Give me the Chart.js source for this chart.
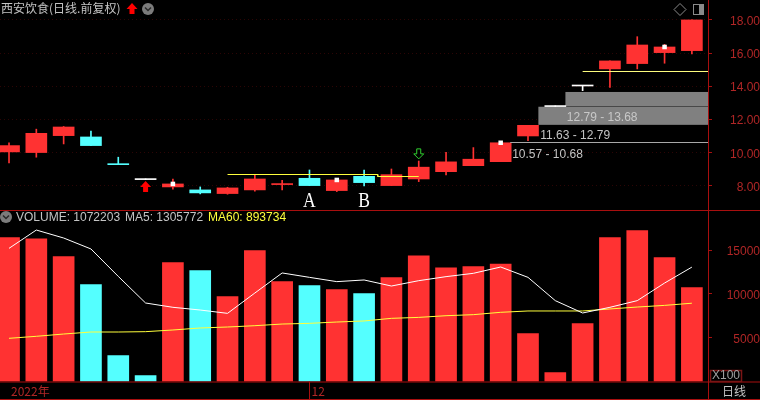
<!DOCTYPE html>
<html>
<head>
<meta charset="utf-8">
<title>西安饮食</title>
<script src="https://cdn.jsdelivr.net/npm/chart.js@4"></script>
<style>
  html, body { margin: 0; padding: 0; background: #000; overflow: hidden; }
  canvas { display: block; }
</style>
</head>
<body>
<canvas id="priceChart" width="760" height="210"></canvas>
<canvas id="volumeChart" width="760" height="190"></canvas>
<script>
// candles
const opens  = [10.05, 10.01, 11.03, 10.95, 9.33, 8.42, 7.94, 7.76, 7.54, 7.76, 8.08, 8.46, 7.72, 8.58, 8.02, 8.42, 8.86, 9.22, 9.46, 11.01, 12.78, 14.02, 15.05, 15.37, 16.03, 16.15];
const closes = [10.43, 11.17, 11.55, 10.43, 9.28, 8.38, 8.12, 7.58, 7.88, 8.42, 8.12, 8.02, 8.36, 8.20, 8.68, 9.13, 9.45, 9.61, 10.60, 11.65, 12.82, 14.06, 15.53, 16.49, 16.37, 18.00];
const highs  = [10.59, 11.42, 11.58, 11.31, 9.73, 8.42, 8.42, 7.94, 7.92, 8.64, 8.34, 8.96, 8.40, 8.96, 9.02, 9.50, 10.03, 10.31, 10.64, 11.65, 12.82, 14.06, 15.53, 16.99, 16.53, 18.00];
const lows   = [9.39, 9.73, 10.53, 10.43, 9.28, 8.38, 7.80, 7.52, 7.50, 7.68, 7.76, 8.02, 7.66, 8.00, 8.02, 8.26, 8.66, 9.22, 9.46, 10.73, 12.78, 13.74, 13.94, 15.05, 15.39, 15.95];
const candleKinds = ['u','u','u','d','d','w','u','d','u','u','u','d','u','d','u','u','u','u','u','u','w','w','u','u','u','u'];
const markerIndex = [6, 12, 18, 24];

// volume, in hundreds
const volumes = [16420, 16300, 14250, 11050, 2950, 670, 13570, 12650, 9680, 14940, 11400, 10940, 10480, 10030, 11850, 14360, 12990, 13110, 13410, 5460, 1010, 6600, 16420, 17220, 14140, 10722];
const ma5  = [15200, 17290, 16380, 15130, 12000, 8960, 8470, 8160, 7780, 10100, 12390, 11890, 11400, 11590, 10900, 11510, 11970, 12350, 13070, 11890, 9230, 7820, 8470, 9230, 11240, 13058];
const ma60 = [4930, 5160, 5420, 5650, 5650, 5690, 5880, 6110, 6220, 6370, 6560, 6640, 6790, 6910, 7210, 7320, 7510, 7630, 7900, 8050, 8050, 8050, 8280, 8500, 8690, 8937];
const volumeKinds = ['u','u','u','d','d','d','u','d','u','u','u','d','u','d','u','u','u','u','u','u','u','u','u','u','u','u'];

// axes
const priceTicks = [8, 10, 12, 14, 16, 18];
const volumeTicks = [5000, 10000, 15000];
const dateTicks = [0, 11];
const dateLabels = ['2022年', '12'];

// gaps on the right of the price panel
const gapLows   = [12.79, 11.68];
const gapHighs  = [13.66, 12.77];
const gapStarts = [20.37, 19.38];
const gapLabels = ['12.79 - 13.68', '11.63 - 12.79', '10.57 - 10.68'];
const gapLabelY = [12.1, 11.04, 9.87];
const gapLabelX = [20.42, 19.45, 18.42];

const xMin = -0.33, xMax = 25.59;

const RED = '#ff3232', CYAN = '#54ffff', WHITE = '#ffffff', YELLOW = '#ffff3c';
const LINE_RED = '#a80f0f', TEXT_RED = '#b02626', GREY_TEXT = '#c4c4c4';
const kindColor = { u: RED, d: CYAN, w: WHITE };
const latin = '"Liberation Sans", Arial, sans-serif';
const cjk = '"Noto Sans CJK SC", sans-serif';

const xy = (arr) => arr.map((v, i) => ({ x: i, y: v }));

function upArrow(ctx, x, y, color) {
    ctx.fillStyle = color;
    ctx.beginPath();
    ctx.moveTo(x, y);
    ctx.lineTo(x + 5.5, y + 6);
    ctx.lineTo(x + 2.5, y + 6);
    ctx.lineTo(x + 2.5, y + 11);
    ctx.lineTo(x - 2.5, y + 11);
    ctx.lineTo(x - 2.5, y + 6);
    ctx.lineTo(x - 5.5, y + 6);
    ctx.closePath();
    ctx.fill();
}

function downArrowOutline(ctx, x, y, color) {
    ctx.strokeStyle = color;
    ctx.lineWidth = 1;
    ctx.beginPath();
    ctx.moveTo(x, y);
    ctx.lineTo(x + 5, y - 5);
    ctx.lineTo(x + 2, y - 5);
    ctx.lineTo(x + 2, y - 10);
    ctx.lineTo(x - 2, y - 10);
    ctx.lineTo(x - 2, y - 5);
    ctx.lineTo(x - 5, y - 5);
    ctx.closePath();
    ctx.stroke();
}

function chevronDot(ctx, x, y) {
    ctx.fillStyle = '#7c7c7c';
    ctx.beginPath();
    ctx.arc(x, y, 6, 0, Math.PI * 2);
    ctx.fill();
    ctx.strokeStyle = '#2a2a2a';
    ctx.lineWidth = 1.5;
    ctx.beginPath();
    ctx.moveTo(x - 3, y - 1.5);
    ctx.lineTo(x, y + 1.5);
    ctx.lineTo(x + 3, y - 1.5);
    ctx.stroke();
}

function hline(ctx, y, x0, x1, color) {
    ctx.strokeStyle = color;
    ctx.lineWidth = 1;
    ctx.beginPath();
    ctx.moveTo(x0, y);
    ctx.lineTo(x1, y);
    ctx.stroke();
}

const priceDecor = {
    id: 'priceDecor',
    beforeDatasetsDraw(chart) {
        const { ctx, scales: { x, y }, chartArea } = chart;
        ctx.save();
        ctx.fillStyle = '#808080';
        gapLows.forEach((low, i) => {
            const top = y.getPixelForValue(gapHighs[i]);
            ctx.fillRect(x.getPixelForValue(gapStarts[i]), top, chartArea.right - x.getPixelForValue(gapStarts[i]), y.getPixelForValue(low) - top);
        });
        ctx.restore();
    },
    afterDraw(chart) {
        const { ctx, scales: { x, y } } = chart;
        ctx.save();
        ctx.textBaseline = 'middle';

        // title line
        ctx.font = '12px ' + cjk;
        ctx.fillStyle = GREY_TEXT;
        ctx.textAlign = 'left';
        ctx.fillText('西安饮食(日线.前复权)', 1, 8);
        upArrow(ctx, 132, 3, '#ff0000');
        chevronDot(ctx, 148, 9);

        // little toolbar icons
        ctx.strokeStyle = '#8a8a8a';
        ctx.lineWidth = 1;
        ctx.beginPath();
        ctx.moveTo(680, 3.5); ctx.lineTo(686, 9.5); ctx.lineTo(680, 15.5); ctx.lineTo(674, 9.5);
        ctx.closePath();
        ctx.stroke();
        ctx.strokeRect(693.5, 4.5, 10, 10);
        ctx.fillStyle = '#8a8a8a';
        ctx.fillRect(699, 5, 4, 9);

        // gap labels
        ctx.font = '12px ' + latin;
        gapLabels.forEach((t, i) => {
            ctx.fillStyle = i === 0 ? '#c8c8c8' : GREY_TEXT;
            ctx.fillText(t, x.getPixelForValue(gapLabelX[i]), y.getPixelForValue(gapLabelY[i]));
        });

        // signals
        upArrow(ctx, x.getPixelForValue(5), y.getPixelForValue(8.3), '#ff0000');
        downArrowOutline(ctx, x.getPixelForValue(15), y.getPixelForValue(9.63), '#30d030');

        // A / B marks, narrow serif
        ctx.fillStyle = WHITE;
        ctx.font = '22px "Liberation Serif", serif';
        ctx.textAlign = 'center';
        ctx.textBaseline = 'alphabetic';
        [['A', 11], ['B', 13]].forEach(([t, i]) => {
            ctx.save();
            ctx.translate(x.getPixelForValue(i), y.getPixelForValue(6.73));
            ctx.scale(0.8, 1);
            ctx.fillText(t, 0, 0);
            ctx.restore();
        });
        ctx.restore();
    }
};

const volumeDecor = {
    id: 'volumeDecor',
    afterDraw(chart) {
        const { ctx, scales: { x }, chartArea, width, height } = chart;
        ctx.save();
        // panel frame
        hline(ctx, 0.5, 0, width, LINE_RED);
        hline(ctx, chartArea.bottom + 0.5, 0, width, LINE_RED);
        hline(ctx, height - 0.5, 0, width, LINE_RED);
        ctx.strokeStyle = LINE_RED;
        ctx.beginPath();
        ctx.moveTo(chartArea.right + 0.5, chartArea.bottom);
        ctx.lineTo(chartArea.right + 0.5, height);
        const dx = Math.round(x.getPixelForValue(dateTicks[1])) + 0.5;
        ctx.moveTo(dx, chartArea.bottom);
        ctx.lineTo(dx, height);
        ctx.stroke();

        // legend line
        chevronDot(ctx, 6, 7);
        ctx.font = '12px ' + latin;
        ctx.textBaseline = 'middle';
        ctx.textAlign = 'left';
        ctx.fillStyle = GREY_TEXT;
        ctx.fillText('VOLUME: 1072203', 16, 8);
        ctx.fillText('MA5: 1305772', 125, 8);
        ctx.fillStyle = YELLOW;
        ctx.fillText('MA60: 893734', 208, 8);

        // x100 box and period
        ctx.strokeStyle = '#7a1515';
        ctx.strokeRect(710.5, 160.5, 31, 11);
        ctx.fillStyle = '#a0a0a0';
        ctx.fillText('X100', 712, 166);
        ctx.font = '12px ' + cjk;
        ctx.fillStyle = GREY_TEXT;
        ctx.fillText('日线', 722, 181);
        ctx.restore();
    }
};

function rightAxis(min, max, ticks, format, padding, dotted) {
    return {
        position: 'right',
        min: min,
        max: max,
        afterBuildTicks: (scale) => { scale.ticks = ticks.map(v => ({ value: v })); },
        afterFit: (scale) => {
            scale.width = 52;
            scale.paddingTop = 0;
            scale.paddingBottom = 0;
        },
        border: { display: true, color: LINE_RED, dash: [1, 3] },
        grid: {
            drawOnChartArea: dotted,
            color: '#2c0505',
            tickColor: LINE_RED,
            tickLength: 4
        },
        ticks: {
            color: TEXT_RED,
            font: { family: latin, size: 12 },
            padding: padding,
            labelOffset: 1.5,
            crossAlign: 'far',
            autoSkip: false,
            callback: format
        }
    };
}

new Chart(document.getElementById('priceChart'), {
    data: {
        datasets: [
            {
                type: 'bar',
                label: 'body',
                data: opens.map((o, i) => ({ x: i, y: [o, closes[i]] })),
                backgroundColor: candleKinds.map(k => kindColor[k]),
                barThickness: 21,
                minBarLength: 1,
                grouped: false,
                order: 3
            },
            {
                type: 'bar',
                label: 'wick',
                data: lows.map((l, i) => ({ x: i, y: [l, highs[i]] })),
                backgroundColor: candleKinds.map(k => kindColor[k]),
                barThickness: 1,
                grouped: false,
                order: 4
            },
            {
                type: 'scatter',
                label: 'marker',
                data: markerIndex.map(i => ({ x: i, y: closes[i] })),
                pointStyle: 'rect',
                pointRadius: 3.2,
                backgroundColor: WHITE,
                borderWidth: 0,
                order: 1
            },
            {
                type: 'line',
                label: 'support AB',
                data: [{ x: 8, y: 8.688 }, { x: 13.5, y: 8.688 }, { x: 13.5, y: 8.567 }, { x: 15, y: 8.567 }],
                borderColor: YELLOW,
                borderWidth: 1,
                pointRadius: 0,
                order: 2
            },
            {
                type: 'line',
                label: 'high line',
                data: [{ x: 21, y: 14.893 }, { x: xMax, y: 14.893 }],
                borderColor: '#ffff80',
                borderWidth: 1,
                pointRadius: 0,
                order: 2
            },
            {
                type: 'line',
                label: 'gap line',
                data: [{ x: 18.35, y: 10.616 }, { x: xMax, y: 10.616 }],
                borderColor: '#a8a8a8',
                borderWidth: 1,
                pointRadius: 0,
                order: 2
            }
        ]
    },
    options: {
        responsive: false,
        animation: false,
        layout: { padding: 0, autoPadding: false },
        plugins: { legend: { display: false }, tooltip: { enabled: false } },
        scales: {
            x: { type: 'linear', min: xMin, max: xMax, offset: false, display: false },
            y: rightAxis(6.55, 19.2, priceTicks, (v) => v.toFixed(2), 11, true)
        }
    },
    plugins: [priceDecor]
});

new Chart(document.getElementById('volumeChart'), {
    data: {
        datasets: [
            {
                type: 'line',
                label: 'MA5',
                data: xy(ma5),
                borderColor: WHITE,
                borderWidth: 1,
                pointRadius: 0,
                order: 1
            },
            {
                type: 'line',
                label: 'MA60',
                data: xy(ma60),
                borderColor: YELLOW,
                borderWidth: 1,
                pointRadius: 0,
                order: 2
            },
            {
                type: 'bar',
                label: 'VOLUME',
                data: xy(volumes),
                backgroundColor: volumeKinds.map(k => kindColor[k]),
                barThickness: 21,
                order: 3
            }
        ]
    },
    options: {
        responsive: false,
        animation: false,
        layout: { padding: 0, autoPadding: false },
        plugins: { legend: { display: false }, tooltip: { enabled: false } },
        scales: {
            x: {
                type: 'linear',
                min: xMin,
                max: xMax,
                offset: false,
                afterBuildTicks: (scale) => { scale.ticks = dateTicks.map(v => ({ value: v })); },
                afterFit: (scale) => {
                    scale.height = 18.5;
                    scale.paddingLeft = 0;
                    scale.paddingRight = 0;
                },
                border: { display: false },
                grid: { display: false, drawTicks: false },
                ticks: {
                    color: TEXT_RED,
                    font: { family: cjk + ', ' + latin, size: 12 },
                    align: 'start',
                    labelOffset: 2,
                    padding: 3,
                    maxRotation: 0,
                    autoSkip: false,
                    callback: (v) => dateLabels[dateTicks.indexOf(v)]
                }
            },
            y: rightAxis(0, 19578, volumeTicks, (v) => String(v), 8, false)
        }
    },
    plugins: [volumeDecor]
});
</script>
</body>
</html>
